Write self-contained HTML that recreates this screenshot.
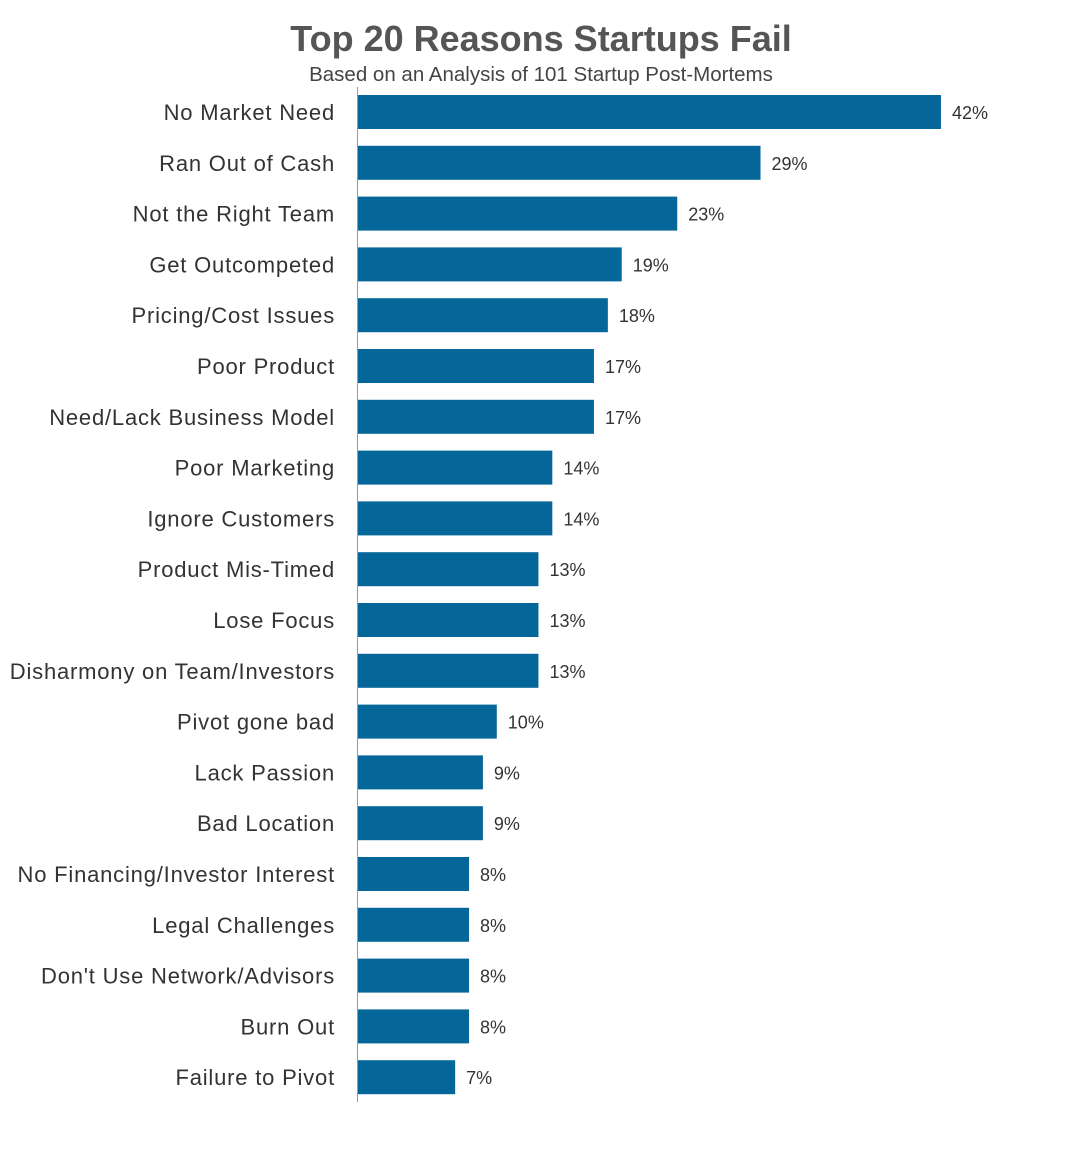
<!DOCTYPE html>
<html><head><meta charset="utf-8"><style>
body{margin:0;background:#fff;}
svg{display:block;font-family:"Liberation Sans",sans-serif;}
</style></head><body>
<svg id="chart" width="1082" height="1150">
<text x="541" y="51" text-anchor="middle" font-size="36" font-weight="bold" fill="#555">Top 20 Reasons Startups Fail</text>
<text x="541" y="81" text-anchor="middle" font-size="20.5" fill="#444">Based on an Analysis of 101 Startup Post-Mortems</text>
<line x1="357.5" y1="87" x2="357.5" y2="1102" stroke="#999" stroke-width="1"/>
<g id="bars"></g>
</svg>
<script>
const categories = ["No Market Need","Ran Out of Cash","Not the Right Team","Get Outcompeted","Pricing/Cost Issues","Poor Product","Need/Lack Business Model","Poor Marketing","Ignore Customers","Product Mis-Timed","Lose Focus","Disharmony on Team/Investors","Pivot gone bad","Lack Passion","Bad Location","No Financing/Investor Interest","Legal Challenges","Don't Use Network/Advisors","Burn Out","Failure to Pivot"];
const values = [42,29,23,19,18,17,17,14,14,13,13,13,10,9,9,8,8,8,8,7];
const valueLabels = ["42%","29%","23%","19%","18%","17%","17%","14%","14%","13%","13%","13%","10%","9%","9%","8%","8%","8%","8%","7%"];
const x0 = 358, pxPer = 13.88;
const xScale = v => x0 + v * pxPer;
const yTop = 95, pitch = 50.8, barH = 34;
const yScale = i => yTop + i * pitch;
const g = document.getElementById('bars');
const NS = "http://www.w3.org/2000/svg";
categories.forEach((c, i) => {
  const y = yScale(i);
  const r = document.createElementNS(NS, 'rect');
  r.setAttribute('x', x0); r.setAttribute('y', y);
  r.setAttribute('width', xScale(values[i]) - x0); r.setAttribute('height', barH);
  r.setAttribute('fill', '#05669a');
  
  
  g.appendChild(r);
  const t = document.createElementNS(NS, 'text');
  t.setAttribute('x', 335); t.setAttribute('y', y + barH / 2 + 8);
  t.setAttribute('text-anchor', 'end'); t.setAttribute('font-size', '22'); t.setAttribute('fill', '#333');
  t.setAttribute('letter-spacing', '0.8');
  t.textContent = c;
  
  
  g.appendChild(t);
  const v = document.createElementNS(NS, 'text');
  v.setAttribute('x', xScale(values[i]) + 11); v.setAttribute('y', y + barH / 2 + 7);
  v.setAttribute('font-size', '18'); v.setAttribute('fill', '#333');
  v.textContent = valueLabels[i];
  
  
  g.appendChild(v);
});
</script>
</body></html>
